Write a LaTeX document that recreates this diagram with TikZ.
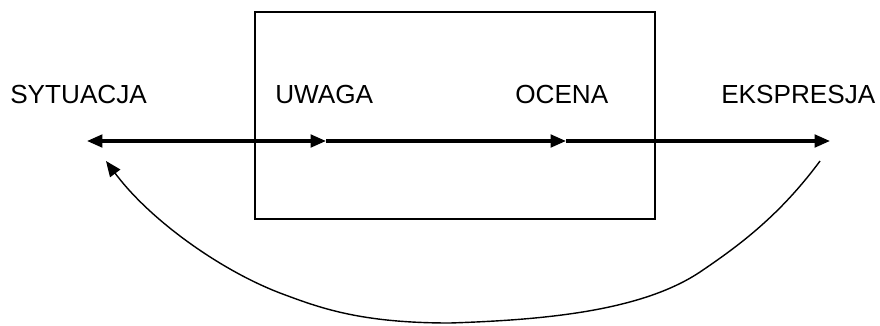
\documentclass[tikz,border=0pt]{standalone}
\usepackage{fontspec}
\setmainfont{Liberation Sans}
\usetikzlibrary{arrows.meta}
\begin{document}
\begin{tikzpicture}[x=0.025cm,y=-0.025cm,
  lbl/.style={anchor=base west,inner sep=0pt,font=\fontsize{18.6}{22}\selectfont},
  flow/.style={line width=2.2pt,-{Triangle[length=11pt,width=9pt]}},
  loop/.style={line width=1pt,-{Triangle[length=11pt,width=9pt]}},
  frame/.style={draw,line width=1.3pt}]
\useasboundingbox (0,0) rectangle (880,325);
\node[frame,minimum width=400*0.025cm,minimum height=207*0.025cm,anchor=north west] (box) at (254,11) {};
\node[lbl] (sit) at (10,103) {SYTUACJA};
\node[lbl] (uw) at (275,103) {UWAGA};
\node[lbl] (oc) at (515,103) {OCENA};
\node[lbl] (ek) at (721,103) {EKSPRESJA};
\coordinate (s) at (87,141);
\coordinate (u) at (326,141);
\coordinate (o) at (566,141);
\coordinate (e) at (830,141);
\coordinate (ls) at (106,161);
\coordinate (le) at (820,161);
\coordinate (lr) at (700,272);
\coordinate (lb) at (450,323);
\coordinate (ll) at (280,293);
\draw[line width=2.2pt,{Triangle[length=11pt,width=9pt]}-{Triangle[length=11pt,width=9pt]}] (s) -- (u);
\draw[flow] (u) -- (o);
\draw[flow] (o) -- (e);
\draw[loop] (le) .. controls (780,215) and (740,245) .. (lr)
  .. controls (640,312) and (540,320) .. (lb)
  .. controls (360,323) and (320,308) .. (ll)
  .. controls (220,270) and (150,220) .. (ls);
\end{tikzpicture}
\end{document}
